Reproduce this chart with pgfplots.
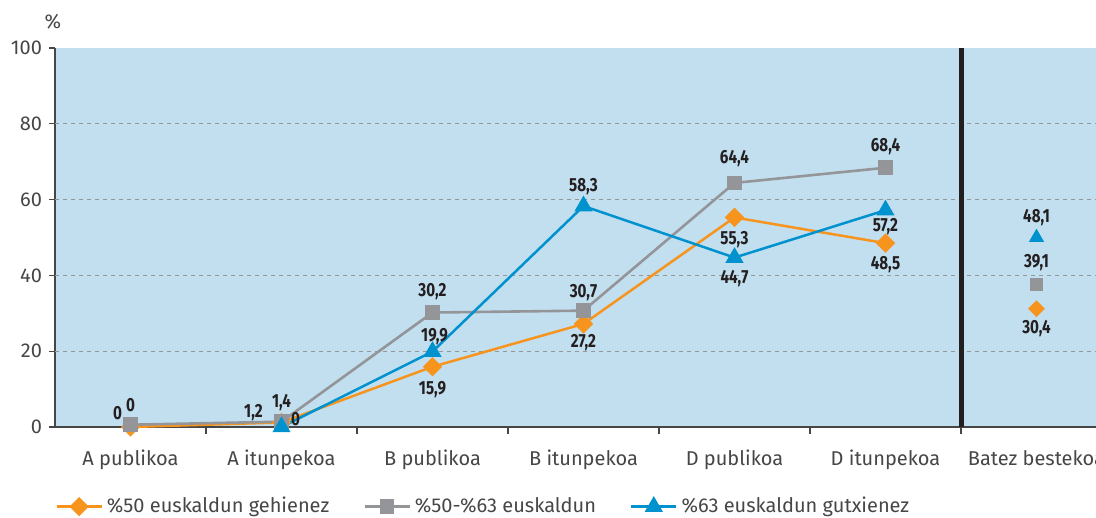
\documentclass[border=0pt]{standalone}
\usepackage{fontspec}
\setmainfont{Fira Sans}
\newfontfamily\labfont[FakeStretch=0.8]{Fira Sans}
\usepackage{pgfplots}
\usepackage{pgfplotstable}
\pgfplotsset{compat=1.18}

\definecolor{bgc}{RGB}{194,223,240}
\definecolor{orc}{RGB}{247,148,30}
\definecolor{grc}{RGB}{147,149,152}
\definecolor{blc}{RGB}{0,146,207}
\definecolor{axc}{RGB}{70,70,70}
\definecolor{txc}{RGB}{35,31,32}
\definecolor{gridc}{RGB}{150,150,150}

\pgfplotsset{lab/.style={
  nodes near coords,
  point meta=explicit symbolic,
  visualization depends on={\thisrow{dx} \as \dx},
  visualization depends on={\thisrow{dy} \as \dy},
  every node near coord/.append style={anchor=center, xshift=\dx pt, yshift=\dy pt,
     font=\labfont\bfseries\fontsize{9.5}{10}\selectfont, text=txc, inner sep=0pt},
}}

\pgfplotstableread[col sep=semicolon]{
x;y;lab;dx;dy
0;0;0;-6.5;7
1;1.2;1,2;-14;5
2;15.9;15,9;0;-11.5
3;27.2;27,2;0;-9.5
4;55.3;55,3;0;-11
5;48.5;48,5;0;-10.5
}\orangetab

\pgfplotstableread[col sep=semicolon]{
x;y;lab;dx;dy
0;0.6;0;0;10
1;1.4;1,4;0;9.5
2;30.2;30,2;0;10.5
3;30.7;30,7;0;9
4;64.4;64,4;0;12
5;68.4;68,4;0;10.5
}\graytab

\pgfplotstableread[col sep=semicolon]{
x;y;lab;dx;dy
1;0;0;7;4
2;19.9;19,9;1;7.5
3;58.3;58,3;0;9.5
4;44.7;44,7;0;-10.5
5;57.2;57,2;0;-8
}\bluetab

\pgfplotstableread[col sep=semicolon]{
x;y;lab;dx;dy
6;31.2;30,4;0;-10
}\orangeavg
\pgfplotstableread[col sep=semicolon]{
x;y;lab;dx;dy
6;37.7;39,1;0;10.5
}\grayavg
\pgfplotstableread[col sep=semicolon]{
x;y;lab;dx;dy
6;50.0;48,1;0;10
}\blueavg

\begin{document}
\begin{tikzpicture}
\begin{axis}[
  scale only axis, width=528.5pt, height=189.5pt,
  at={(0,0)}, anchor=south west,
  xmin=-0.5, xmax=6.5, ymin=0, ymax=100,
  axis x line*=bottom, axis y line*=left,
  axis line style={draw=axc, line width=0.6pt, -},
  axis background/.style={fill=bgc},
  font=\fontsize{10}{12}\selectfont,
  /pgf/number format/assume math mode=true,
  tick label style={text=axc},
  xtick={0,...,6},
  xticklabels={A publikoa, A itunpekoa, B publikoa, B itunpekoa, D publikoa, D itunpekoa, Batez bestekoa},
  major x tick style={draw=none},
  minor xtick={0.5,1.5,2.5,3.5,4.5,5.5},
  minor x tick style={draw=axc, line width=0.6pt},
  minor tick length=3.5pt,
  xticklabel style={yshift=-5pt},
  ytick={0,20,...,100},
  major y tick style={draw=axc, line width=0.6pt},
  major tick length=3pt,
  tick align=outside,
  extra y ticks={20,40,60,80},
  extra y tick labels={},
  extra y tick style={grid=major, major tick length=0pt},
  grid style={draw=gridc, line width=0.5pt, dash pattern=on 2pt off 2pt},
  ylabel={\%},
  ylabel style={rotate=-90, at={(axis description cs:0,1)}, anchor=center, yshift=13pt, xshift=-1pt, text=axc},
  legend style={at={(axis description cs:0,-0.21)}, anchor=west, draw=none, fill=none,
    inner xsep=0pt, font=\fontsize{10}{12}\selectfont, text=axc,
    /tikz/every even column/.append style={column sep=15pt}},
  legend columns=3,
  legend cell align=left,
  legend image code/.code={\draw[#1, mark repeat=2, mark phase=2] plot coordinates {(0pt,0pt) (11.25pt,0pt) (22.5pt,0pt)};},
  clip=false,
]
\addplot[forget plot, draw=txc, line width=2.5pt, mark=none] coordinates {(5.5,0) (5.5,100)};

\addplot[lab, orc, line width=1.25pt, mark=square*, mark size=2.8pt, mark options={solid, rotate=45}]
  table[x=x, y=y, meta=lab]{\orangetab};
\addlegendentry{\%50 euskaldun gehienez}
\addplot[lab, grc, line width=1.3pt, mark=square*, mark size=3pt, mark options={solid}]
  table[x=x, y=y, meta=lab]{\graytab};
\addlegendentry{\%50-\%63 euskaldun}
\addplot[lab, blc, line width=1.25pt, mark=triangle*, mark size=4pt, mark options={solid}]
  table[x=x, y=y, meta=lab]{\bluetab};
\addlegendentry{\%63 euskaldun gutxienez}

\addplot[lab, forget plot, only marks, orc, mark=square*, mark size=2.8pt, mark options={solid, rotate=45}]
  table[x=x, y=y, meta=lab]{\orangeavg};
\addplot[lab, forget plot, only marks, grc, mark=square*, mark size=3pt]
  table[x=x, y=y, meta=lab]{\grayavg};
\addplot[lab, forget plot, only marks, blc, mark=triangle*, mark size=4pt]
  table[x=x, y=y, meta=lab]{\blueavg};
\end{axis}
\pgfresetboundingbox
\path[use as bounding box] (-27.5pt,-45.5pt) rectangle (520.5pt,213.5pt);
\end{tikzpicture}
\end{document}
